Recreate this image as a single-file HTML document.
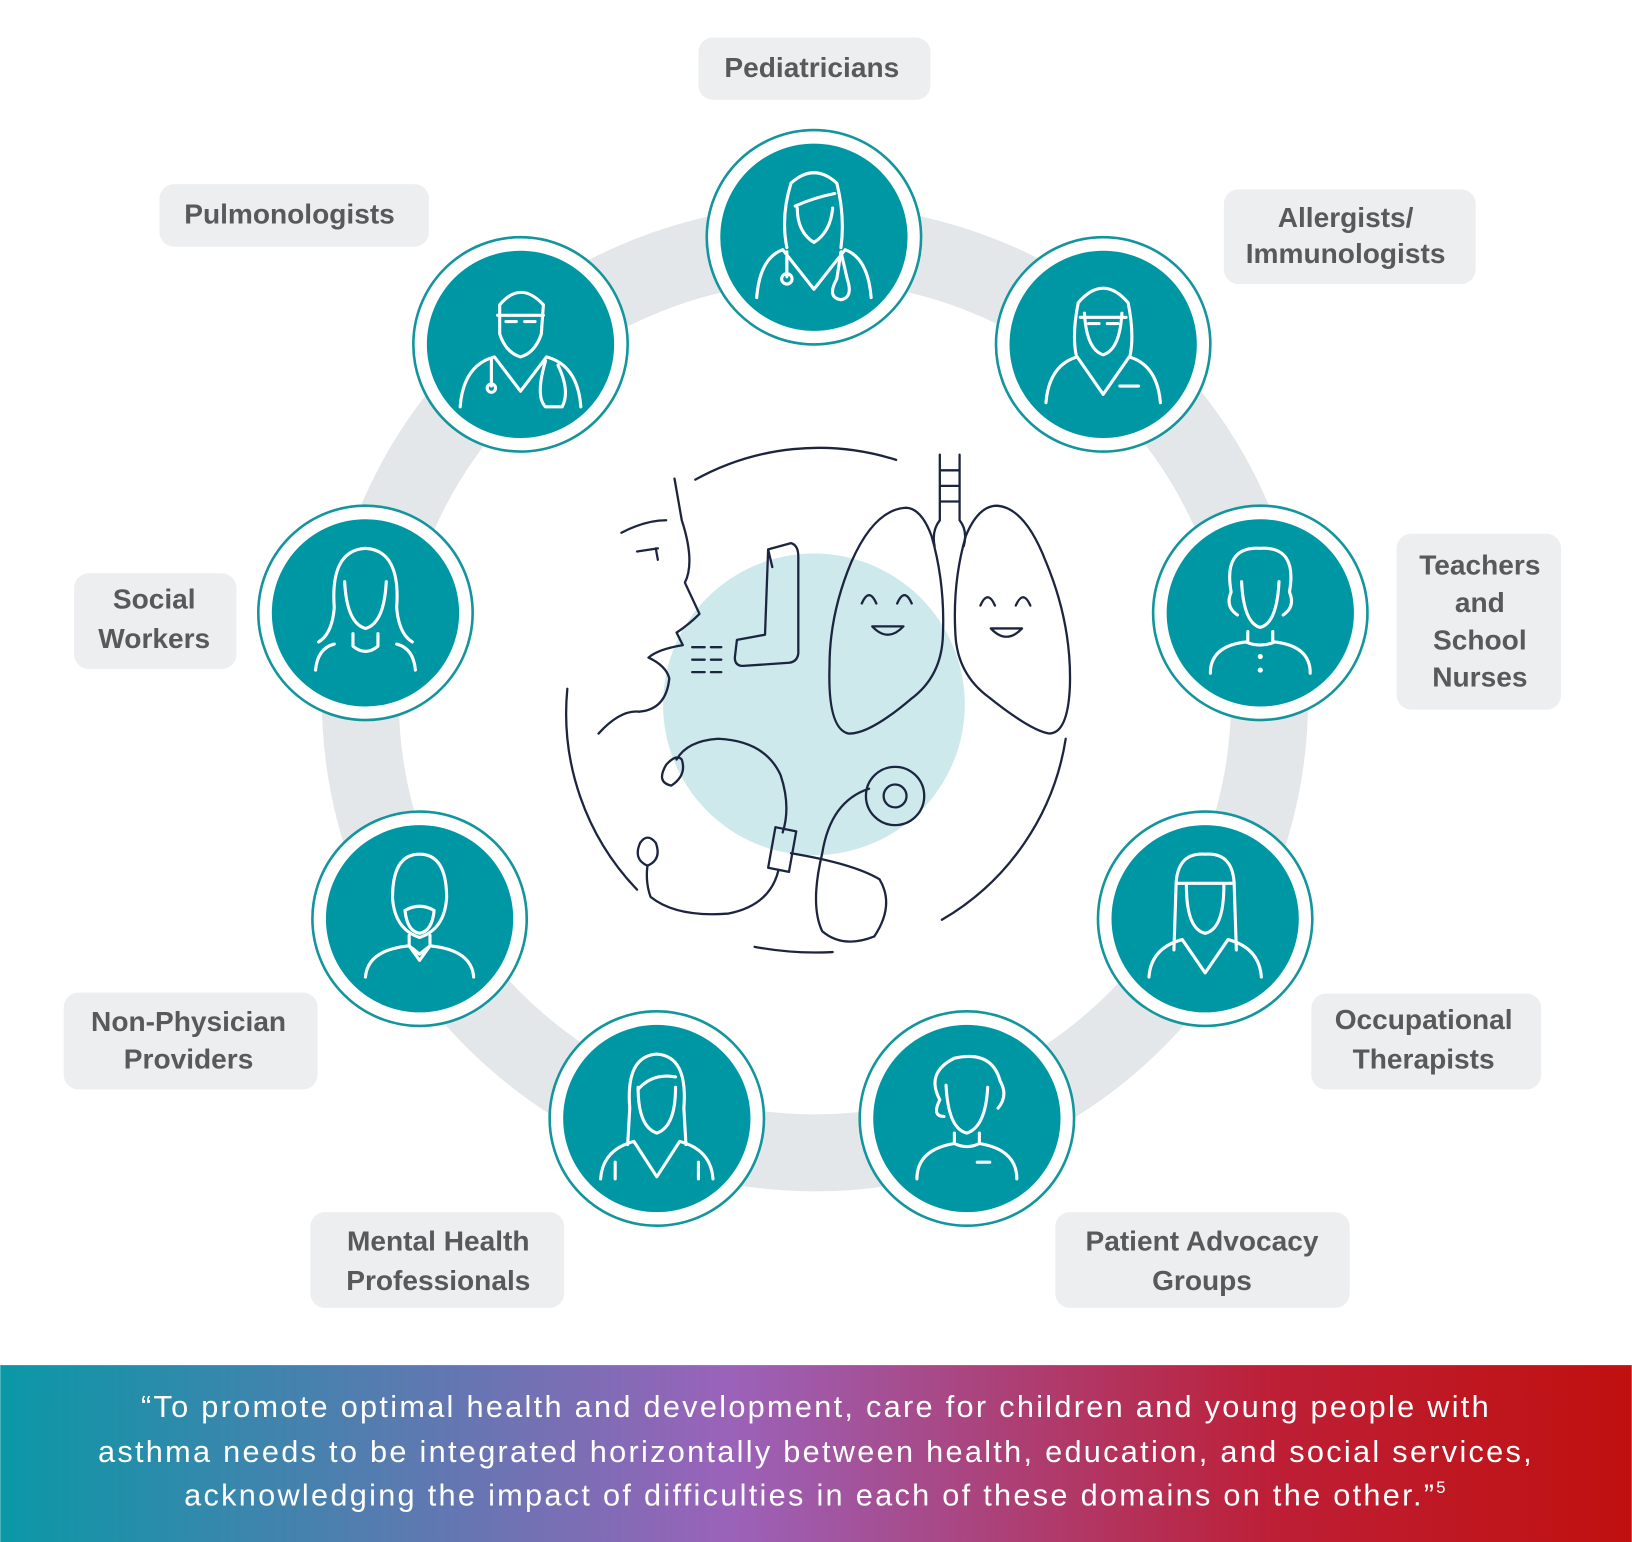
<!DOCTYPE html>
<html><head><meta charset="utf-8"><style>
html,body{margin:0;padding:0;background:#fff;}
svg{display:block;}
.lb{font-family:"Liberation Sans",sans-serif;font-size:27px;font-weight:bold;fill:#58595b;text-anchor:middle;}
.bt{font-family:"Liberation Sans",sans-serif;font-size:29.5px;fill:#fff;text-anchor:middle;letter-spacing:2.2px;}
.ic{fill:none;stroke:#fff;stroke-width:3;stroke-linecap:round;stroke-linejoin:round;}
.il{fill:none;stroke:#1c2540;stroke-width:2.2;stroke-linecap:round;stroke-linejoin:round;}
</style></head><body>
<svg width="1632" height="1542" viewBox="0 0 1568 1482" xmlns="http://www.w3.org/2000/svg">
<defs>
<linearGradient id="g" x1="0" x2="1" y1="0" y2="0">
<stop offset="0" stop-color="#0a98a6"/>
<stop offset="0.45" stop-color="#9b62b9"/>
<stop offset="0.78" stop-color="#bd1f36"/>
<stop offset="1" stop-color="#c0100f"/>
</linearGradient>
<g id="p">
<circle r="103" fill="#fff" stroke="#12959c" stroke-width="2.5"/>
<circle r="90" fill="#0097a4"/>
</g>
</defs>
<rect width="1568" height="1482" fill="#fff"/>
<circle cx="783" cy="671" r="437" fill="none" stroke="#e4e7e9" stroke-width="74"/>
<g fill="#edeef0">
<rect x="671" y="36" width="223" height="60" rx="14"/>
<rect x="153" y="177" width="259" height="60" rx="14"/>
<rect x="1176" y="182" width="242" height="91" rx="14"/>
<rect x="71" y="551" width="156" height="92" rx="14"/>
<rect x="1342" y="513" width="158" height="169" rx="14"/>
<rect x="61" y="954" width="244" height="93" rx="14"/>
<rect x="1260" y="955" width="221" height="92" rx="14"/>
<rect x="298" y="1165" width="244" height="92" rx="14"/>
<rect x="1014" y="1165" width="283" height="92" rx="14"/>
</g>
<text class="lb" x="780" y="74">Pediatricians</text>
<text class="lb" x="278" y="215">Pulmonologists</text>
<text class="lb" x="1293" y="218">Allergists/</text>
<text class="lb" x="1293" y="253">Immunologists</text>
<text class="lb" x="148" y="585">Social</text>
<text class="lb" x="148" y="623">Workers</text>
<text class="lb" x="1422" y="552">Teachers</text>
<text class="lb" x="1422" y="588">and</text>
<text class="lb" x="1422" y="624">School</text>
<text class="lb" x="1422" y="660">Nurses</text>
<text class="lb" x="181" y="991">Non-Physician</text>
<text class="lb" x="181" y="1027">Providers</text>
<text class="lb" x="1368" y="989">Occupational</text>
<text class="lb" x="1368" y="1027">Therapists</text>
<text class="lb" x="421" y="1202">Mental Health</text>
<text class="lb" x="421" y="1240">Professionals</text>
<text class="lb" x="1155" y="1202">Patient Advocacy</text>
<text class="lb" x="1155" y="1240">Groups</text>
<g>
<g transform="translate(782,228)"><use href="#p"/>
<path class="ic" d="M-22,-52 Q0,-72 22,-52 Q30,-20 26,10 M-22,-52 Q-32,-20 -26,10 M-18,-30 Q0,-38 20,-42 M-16,-28 Q-16,-5 0,5 Q16,-5 18,-28 M-55,58 Q-52,20 -30,12 L0,50 L30,12 Q52,20 55,58 M-26,14 L-26,38 M-26,40 m-5,0 a5,5 0 1,0 10,0 a5,5 0 1,0 -10,0 M26,14 L22,40 Q12,58 26,60 Q38,58 32,40 Z"/></g>
<g transform="translate(500,331)"><use href="#p"/>
<path class="ic" d="M-20,-38 Q0,-62 22,-38 L20,-10 Q14,8 0,12 Q-14,8 -20,-10 Z M-22,-28 L22,-28 M-14,-22 h10 M4,-22 h10 M-58,60 Q-55,20 -25,12 L0,45 L25,12 Q55,20 58,60 M-28,14 L-28,40 M-28,42 m-4,0 a4,4 0 1,0 8,0 a4,4 0 1,0 -8,0 M24,16 Q14,50 24,60 L40,60 Q48,45 36,20"/></g>
<g transform="translate(1060,331)"><use href="#p"/>
<path class="ic" d="M-24,-40 Q0,-68 24,-40 Q30,-10 26,10 M-24,-40 Q-30,-10 -26,10 M-22,-26 h44 M-14,-20 h10 M4,-20 h10 M-18,-30 Q-16,5 0,10 Q16,5 18,-30 M-55,56 Q-52,20 -25,12 L0,48 L25,12 Q52,20 55,56 M16,40 h18"/></g>
<g transform="translate(351,589)"><use href="#p"/>
<path class="ic" d="M-30,-5 Q-34,-60 0,-62 Q34,-60 30,-5 Q32,20 45,28 M-30,-5 Q-32,20 -45,28 M-20,-30 Q-18,10 0,15 Q18,10 20,-30 M-12,20 L-12,32 Q0,42 12,32 L12,20 M-48,55 Q-46,34 -30,30 M48,55 Q46,34 30,30"/></g>
<g transform="translate(1211,589)"><use href="#p"/>
<path class="ic" d="M-28,-20 Q-36,-64 0,-62 Q36,-64 28,-20 Q34,-6 22,2 M-28,-20 Q-34,-6 -22,2 M-18,-30 Q-16,10 0,14 Q16,10 18,-30 M-12,18 L-12,28 M12,18 L12,28 M-48,58 Q-48,32 -14,28 Q0,34 14,28 Q48,32 48,58"/>
<circle cx="0" cy="42" r="2.5" fill="#fff"/><circle cx="0" cy="55" r="2.5" fill="#fff"/></g>
<g transform="translate(403,883)"><use href="#p"/>
<path class="ic" d="M-26,-20 Q-26,-62 0,-62 Q26,-62 26,-20 Q24,10 0,18 Q-24,10 -26,-20 Z M-14,-8 Q0,-16 14,-8 Q12,12 0,14 Q-12,12 -14,-8 M-10,16 L-10,26 L0,34 L10,26 L10,16 M-52,56 Q-50,30 -10,26 M52,56 Q50,30 10,26 M-10,26 L0,40 L10,26"/></g>
<g transform="translate(1158,883)"><use href="#p"/>
<path class="ic" d="M-28,-30 Q-28,-64 0,-62 Q28,-64 28,-30 L30,30 M-28,-30 L-30,30 M-28,-34 h56 M-18,-32 Q-18,10 0,14 Q18,10 18,-32 M-54,56 Q-52,28 -22,20 L0,52 L22,20 Q52,28 54,56"/></g>
<g transform="translate(631,1075)"><use href="#p"/>
<path class="ic" d="M-26,-10 Q-30,-60 0,-62 Q30,-60 26,-10 L28,25 M-26,-10 L-28,25 M-18,-28 Q-4,-44 18,-40 M-18,-30 Q-18,8 0,14 Q18,8 18,-30 M-54,58 Q-52,30 -22,22 L0,56 L22,22 Q52,30 54,58 M-40,42 L-40,58 M40,42 L40,58"/></g>
<g transform="translate(929,1075)"><use href="#p"/>
<path class="ic" d="M-26,-18 Q-40,-44 -12,-58 Q24,-66 32,-36 Q40,-22 30,-10 M-26,-18 Q-34,-2 -22,-2 M-20,-32 Q-18,10 0,14 Q18,8 20,-30 M-12,14 L-12,24 Q0,30 12,24 L12,14 M-48,58 Q-48,30 -12,24 M48,58 Q48,30 12,24 M10,42 h12"/></g>
</g>
<circle cx="782" cy="677" r="145" fill="#cde9ec"/>
<path class="il" d="M668,461 A245,245 0 0,1 861,442"/>
<path class="il" d="M1024,710 A245,245 0 0,1 905,884"/>
<path class="il" d="M725,910 Q762,917 800,915"/>
<path class="il" d="M545,662 A245,245 0 0,0 612,855"/>
<path class="il" d="M648,460 L655,500 Q668,540 658,560 L672,590 Q662,600 650,608 L656,620 Q632,624 623,632 Q640,640 643,652 Q640,682 614,684 Q596,682 575,705"/>
<path class="il" d="M597,512 Q620,500 640,500 M612,530 L632,527 M630,527 L632,538"/>
<path class="il" d="M738,528 L760,522 Q767,524 767,535 L767,628 Q766,636 758,637 L714,640 Q706,640 706,632 L708,615 L735,610 Z M738,528 L742,545"/>
<path class="il" d="M665,622 h12 M683,622 h10 M665,634 h12 M683,634 h10 M665,646 h12 M683,646 h10"/>
<path class="il" d="M903,437 L903,500 M922,437 L922,500 M903,452 h19 M903,467 h19 M903,482 h19 M903,500 Q895,510 898,525 M922,500 Q930,510 926,525"/>
<path class="il" d="M870,488 Q840,490 818,540 Q797,590 797,640 Q795,700 815,705 Q835,706 875,672 Q905,650 906,610 Q908,560 895,515 Q885,488 870,488 Z"/>
<path class="il" d="M958,486 Q985,488 1005,540 Q1030,600 1028,660 Q1026,705 1008,705 Q990,702 950,670 Q920,648 918,610 Q915,560 928,515 Q940,486 958,486 Z"/>
<path class="il" d="M828,580 q7,-16 14,0 M862,580 q7,-16 14,0 M838,602 Q853,618 868,602 Z"/>
<path class="il" d="M942,582 q7,-16 14,0 M976,582 q7,-16 14,0 M952,604 Q967,620 982,604 Z"/>
<path class="il" d="M640,735 Q630,752 645,755 Q660,745 655,730 Q650,724 640,735 Z M650,730 Q660,712 690,710 Q735,712 750,745 Q760,775 752,800"/>
<path class="il" d="M745,795 L765,799 L758,838 L738,834 Z M748,836 Q740,870 700,878 Q650,882 625,862 Q620,848 622,832 M615,810 Q608,826 622,832 Q636,826 630,810 Q622,800 615,810 Z"/>
<path class="il" d="M760,820 Q820,830 845,845 Q860,870 840,900 Q810,912 790,895 Q778,870 790,820 Q798,770 835,758"/>
<circle class="il" cx="860" cy="765" r="28"/><circle class="il" cx="860" cy="765" r="11"/>
<rect x="0" y="1312" width="1568" height="170" fill="url(#g)"/>
<text class="bt" x="784" y="1362">“To promote optimal health and development, care for children and young people with</text>
<text class="bt" x="784" y="1405">asthma needs to be integrated horizontally between health, education, and social services,</text>
<text class="bt" x="784" y="1447">acknowledging the impact of difficulties in each of these domains on the other.”<tspan font-size="16" dy="-12">5</tspan></text>
</svg>
</body></html>
